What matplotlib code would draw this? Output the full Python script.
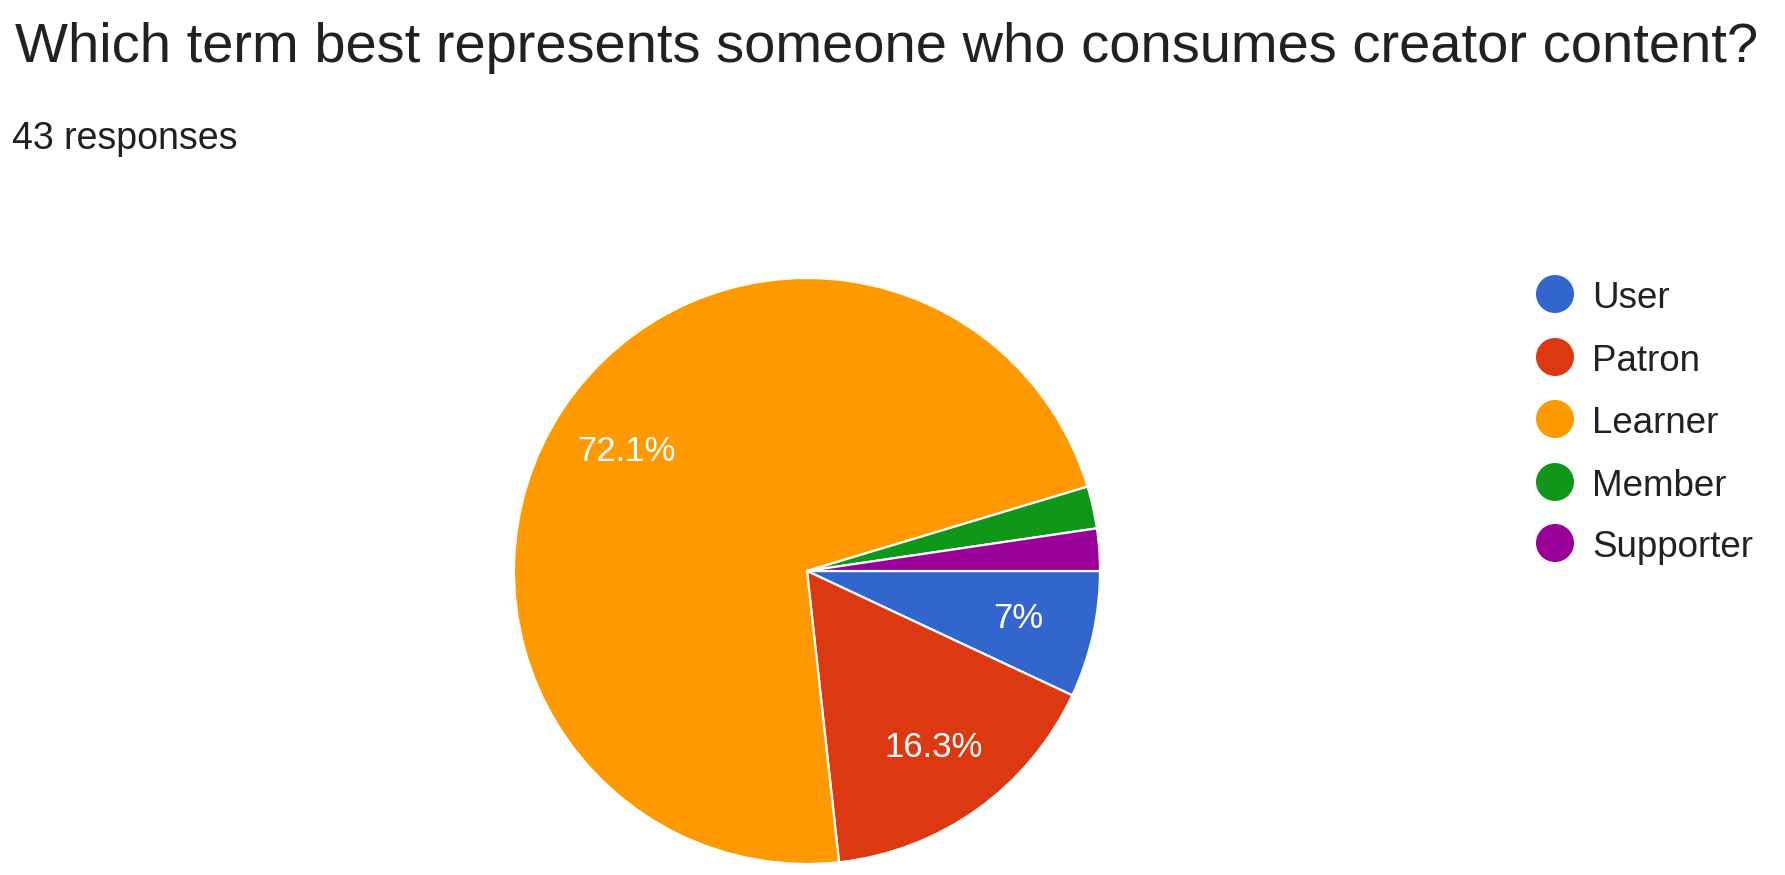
import matplotlib
matplotlib.use("Agg")
import matplotlib.pyplot as plt

plt.rcParams["font.family"] = ["Liberation Sans", "DejaVu Sans"]

TITLE = "Which term best represents someone who consumes creator content?"
SUBTITLE = "43 responses"
labels = ["User", "Patron", "Learner", "Member", "Supporter"]
counts = [3, 7, 31, 1, 1]
colors = ["#3366CC", "#DC3912", "#FF9900", "#109618", "#990099"]

W, H = 1785, 875
fig = plt.figure(figsize=(W / 100, H / 100), dpi=100)

# pie axes placed in pixels: center (807, 571), radius 293
cx, cy, r = 807, 571, 293
ax = fig.add_axes([(cx - r) / W, (H - cy - r) / H, 2 * r / W, 2 * r / H])


def fmt(pct):
    # google style: one decimal, drop trailing zero, hide tiny slices
    if pct < 5:
        return ""
    s = f"{pct:.1f}".rstrip("0").rstrip(".")
    return s + "%"


wedges, texts, autotexts = ax.pie(
    counts, colors=colors, startangle=0, counterclock=False,
    autopct=fmt, pctdistance=0.74,
    wedgeprops=dict(edgecolor="white", linewidth=1.6),
    textprops=dict(color="white", fontsize=25),
)
ax.set_xlim(-1, 1)
ax.set_ylim(-1, 1)
ax.set_axis_off()

# overlay in pixel coords for text and legend
lax = fig.add_axes([0, 0, 1, 1])
lax.set_xlim(0, W)
lax.set_ylim(H, 0)
lax.set_axis_off()
lax.patch.set_alpha(0)

lax.text(15, 62, TITLE, fontsize=40.4, color="#202124", va="baseline", ha="left")
lax.text(12, 149, SUBTITLE, fontsize=27, color="#202124", va="baseline", ha="left")

row_y = [294, 357, 419, 482, 543]
for lab, col, y in zip(labels, colors, row_y):
    lax.scatter([1555], [y], s=750, color=col, edgecolors="none")
    lax.text(1592, y + 14, lab, fontsize=26.5, color="#222222", va="baseline", ha="left")

fig.savefig("out.png", dpi=100)
